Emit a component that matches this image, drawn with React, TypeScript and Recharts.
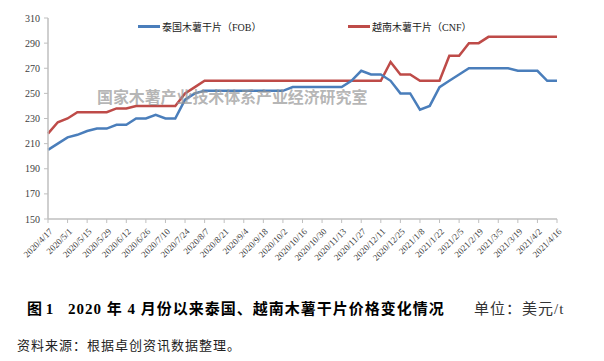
import { LineChart, Line, XAxis, YAxis } from "recharts";

const dates = [
  "2020/4/17", "2020/4/24", "2020/5/1", "2020/5/8", "2020/5/15", "2020/5/22", "2020/5/29",
  "2020/6/5", "2020/6/12", "2020/6/19", "2020/6/26", "2020/7/3", "2020/7/10", "2020/7/17",
  "2020/7/24", "2020/7/31", "2020/8/7", "2020/8/14", "2020/8/21", "2020/8/28", "2020/9/4",
  "2020/9/11", "2020/9/18", "2020/9/25", "2020/10/2", "2020/10/9", "2020/10/16", "2020/10/23",
  "2020/10/30", "2020/11/6", "2020/11/13", "2020/11/20", "2020/11/27", "2020/12/4", "2020/12/11",
  "2020/12/18", "2020/12/25", "2021/1/1", "2021/1/8", "2021/1/15", "2021/1/22", "2021/1/29",
  "2021/2/5", "2021/2/12", "2021/2/19", "2021/2/26", "2021/3/5", "2021/3/12", "2021/3/19",
  "2021/3/26", "2021/4/2", "2021/4/9", "2021/4/16",
];

// 泰国木薯干片（FOB）
const thai = [
  205, 210, 215, 217, 220, 222, 222, 225, 225, 230, 230, 233, 230, 230, 245, 250,
  252, 252, 252, 252, 252, 252, 252, 252, 252,
  255, 255, 255, 255, 255, 255,
  260, 268, 265, 265, 260, 250, 250, 237, 240, 255, 260, 265,
  270, 270, 270, 270, 270, 268, 268, 268, 260, 260,
];

// 越南木薯干片（CNF）
const vietnam = [
  218, 227, 230, 235, 235, 235, 235, 238, 238, 240, 240, 240, 240, 240, 250, 255,
  260, 260, 260, 260, 260, 260, 260, 260, 260, 260, 260, 260, 260, 260, 260, 260, 260, 260, 260,
  275, 265, 265, 260, 260, 260, 280, 280, 290, 290,
  295, 295, 295, 295, 295, 295, 295, 295,
];

const yTicks = [150, 170, 190, 210, 230, 250, 270, 290, 310];

const data = dates.map((d, i) => ({ date: d, thai: thai[i], vietnam: vietnam[i] }));

const serif = "'Liberation Serif', 'Noto Sans CJK SC', serif";
const BLUE = "#4A7EBB";
const RED = "#BE4B48";
const AXIS = "#BFBFBF";

const DateTick = ({ x, y, payload }: any) => (
  <text
    x={x + 3}
    y={y + 5}
    transform={`rotate(-45 ${x + 3} ${y + 5})`}
    textAnchor="end"
    dominantBaseline="central"
    fontSize={9}
    fontFamily={serif}
    fill="#404040"
  >
    {payload.value}
  </text>
);

const App = () => {
  return (
    <div style={{ position: "absolute", left: 0, top: 0, width: 604, height: 361, background: "#fff" }}>
      <LineChart width={604} height={290} data={data} margin={{ top: 18, right: 47, bottom: 0, left: 0 }}>
        <XAxis
          dataKey="date"
          interval={1}
          tick={<DateTick />}
          tickSize={4}
          height={71}
          axisLine={{ stroke: AXIS, strokeWidth: 1.5 }}
          tickLine={{ stroke: AXIS }}
          padding={{ left: 0, right: 0 }}
        />
        <YAxis
          domain={[150, 310]}
          ticks={yTicks}
          width={48}
          tickSize={4}
          tickMargin={4}
          interval={0}
          axisLine={{ stroke: AXIS, strokeWidth: 1.5 }}
          tickLine={{ stroke: AXIS }}
          tick={{ fontSize: 10, fontFamily: serif, fill: "#404040" }}
        />
        <Line dataKey="vietnam" stroke={RED} strokeWidth={2.5} dot={false} isAnimationActive={false} />
        <Line dataKey="thai" stroke={BLUE} strokeWidth={2.5} dot={false} isAnimationActive={false} />
      </LineChart>

      {/* legend */}
      <div style={{ position: "absolute", left: 138, top: 25, width: 22, height: 2.5, background: BLUE }} />
      <div style={{ position: "absolute", left: 162, top: 19, fontSize: 10, fontFamily: serif, color: "#222", whiteSpace: "nowrap" }}>
        泰国木薯干片（FOB）
      </div>
      <div style={{ position: "absolute", left: 348, top: 25, width: 22, height: 2.5, background: RED }} />
      <div style={{ position: "absolute", left: 372, top: 19, fontSize: 10, fontFamily: serif, color: "#222", whiteSpace: "nowrap" }}>
        越南木薯干片（CNF）
      </div>

      {/* watermark */}
      <div
        style={{
          position: "absolute",
          left: 97,
          top: 84,
          fontSize: 16,
          fontWeight: 700,
          letterSpacing: -0.1,
          fontFamily: "'Noto Sans CJK SC', sans-serif",
          color: "rgba(150,150,150,0.7)",
          whiteSpace: "nowrap",
        }}
      >
        国家木薯产业技术体系产业经济研究室
      </div>

      {/* caption */}
      <div style={{ position: "absolute", left: 27, top: 297, fontSize: 15, fontWeight: 700, fontFamily: serif, color: "#000", whiteSpace: "nowrap" }}>
        图 1
      </div>
      <div
        style={{
          position: "absolute",
          left: 68,
          top: 297,
          fontSize: 15,
          fontWeight: 700,
          letterSpacing: 1,
          fontFamily: serif,
          color: "#000",
          whiteSpace: "nowrap",
        }}
      >
        2020 年 4 月份以来泰国、越南木薯干片价格变化情况
      </div>
      <div style={{ position: "absolute", left: 474, top: 297, fontSize: 15, letterSpacing: 1, fontFamily: serif, color: "#333", whiteSpace: "nowrap" }}>
        单位：美元/t
      </div>
      <div
        style={{
          position: "absolute",
          left: 17,
          top: 335,
          fontSize: 13,
          letterSpacing: 1,
          fontFamily: serif,
          color: "#222",
          whiteSpace: "nowrap",
        }}
      >
        资料来源：根据卓创资讯数据整理。
      </div>
    </div>
  );
};

export default App;
